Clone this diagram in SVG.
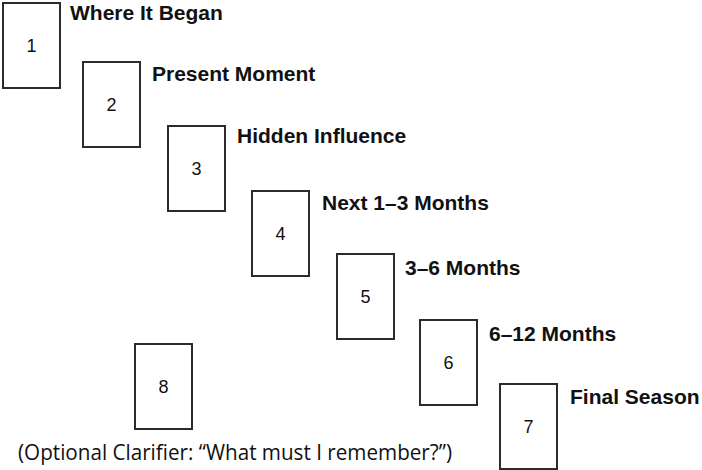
<svg xmlns="http://www.w3.org/2000/svg" width="702" height="470" viewBox="0 0 702 470">
<style>
.card{fill:#fff;stroke:#2b2b2b;stroke-width:2}
.num{font-family:"Liberation Sans",Arial,sans-serif;font-size:18px;fill:#111;text-anchor:middle}
.lbl{font-family:"Liberation Sans",Arial,sans-serif;font-size:21px;font-weight:bold;fill:#111}
.cap{font-family:"Open Sans","Noto Sans",sans-serif;font-size:21px;fill:#111}
</style>
<rect width="702" height="470" fill="#fff"/>
<g id="connectors"></g>
<g id="card1"><rect class="card" x="3" y="3" width="57" height="85"/><text class="num" x="31.5" y="52">1</text><text class="lbl" x="70" y="20">Where It Began</text></g>
<g id="card2"><rect class="card" x="83" y="62" width="57" height="85"/><text class="num" x="111.5" y="111">2</text><text class="lbl" x="152" y="81">Present Moment</text></g>
<g id="card3"><rect class="card" x="168" y="126" width="57" height="85"/><text class="num" x="196.5" y="175">3</text><text class="lbl" x="237" y="143">Hidden Influence</text></g>
<g id="card4"><rect class="card" x="252" y="191" width="57" height="85"/><text class="num" x="280.5" y="240">4</text><text class="lbl" x="322" y="210">Next 1–3 Months</text></g>
<g id="card5"><rect class="card" x="337" y="254" width="57" height="85"/><text class="num" x="365.5" y="303">5</text><text class="lbl" x="405" y="275">3–6 Months</text></g>
<g id="card6"><rect class="card" x="420" y="320" width="57" height="85"/><text class="num" x="448.5" y="369">6</text><text class="lbl" x="489" y="341">6–12 Months</text></g>
<g id="card7"><rect class="card" x="500" y="384" width="57" height="85"/><text class="num" x="528.5" y="433">7</text><text class="lbl" x="570" y="404">Final Season</text></g>
<g id="card8"><rect class="card" x="135" y="344" width="57" height="85"/><text class="num" x="163.5" y="393">8</text><text class="cap" x="18" y="460" textLength="434" lengthAdjust="spacingAndGlyphs">(Optional Clarifier: “What must I remember?”)</text></g>
</svg>
